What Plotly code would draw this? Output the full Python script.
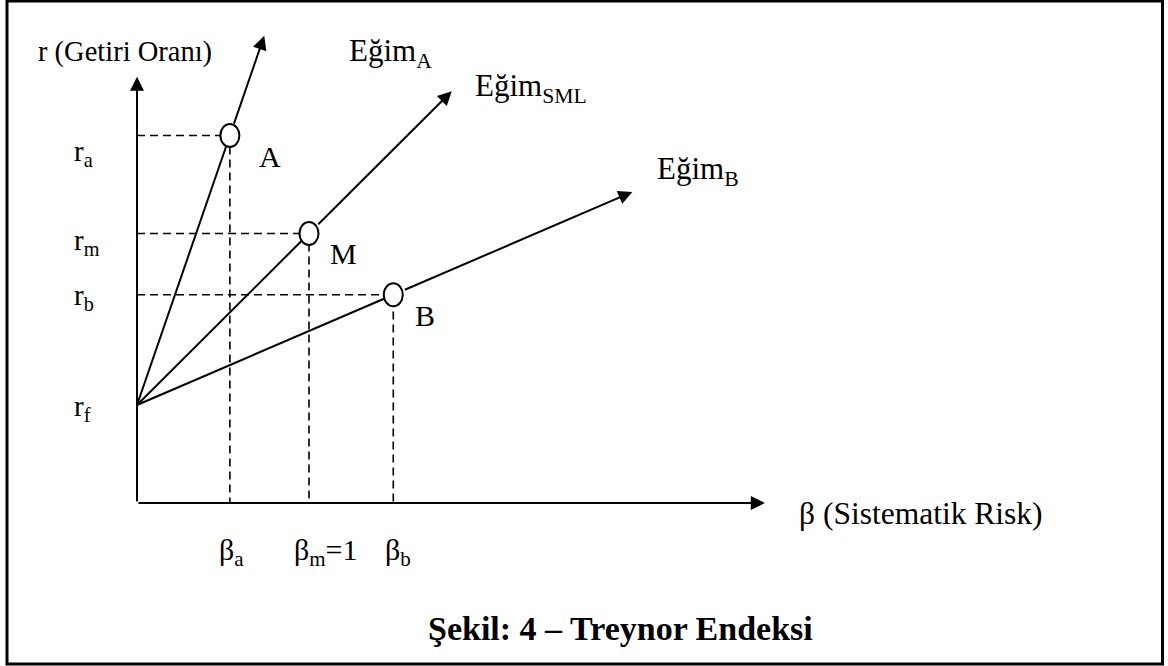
import plotly.graph_objects as go

# ---------------- data ----------------
point_names = ["A", "M", "B"]
betas = [0.54, 1.0, 1.49]          # systematic risk of A, market, B
returns = [15.0, 11.0, 8.5]         # returns r_a, r_m, r_b
rf = 4.0                            # risk free rate
arrow_end_betas = [0.74, 1.83, 2.88]
beta_labels = ["β<sub>a</sub>", "β<sub>m</sub>=1", "β<sub>b</sub>"]
return_labels = ["r<sub>a</sub>", "r<sub>m</sub>", "r<sub>b</sub>"]
rf_label = "r<sub>f</sub>"
slope_labels = ["Eğim<sub>A</sub>", "Eğim<sub>SML</sub>", "Eğim<sub>B</sub>"]
y_title = "r (Getiri Oranı)"
x_title = "β (Sistematik Risk)"
fig_title = "<b>Şekil: 4 – Treynor Endeksi</b>"
axis_max_beta = 3.65
axis_max_r = 17.4

# ---------------- layout helpers ----------------
W, H = 1168, 666
X0PX, Y0PX, SX, SY = 137, 503, 172.0, 24.5
xr = [-X0PX / SX, (W - X0PX) / SX]
yr = [-(H - Y0PX) / SY, Y0PX / SY]
FONT = "Liberation Serif, Times New Roman, serif"


def px(xp):
    return xp / W


def py(yp):
    return 1 - yp / H


fig = go.Figure()

# dashed guide lines
for b, r in zip(betas, returns):
    fig.add_trace(go.Scatter(x=[0, b, b], y=[r, r, 0], mode="lines",
                             line=dict(color="black", width=1.6, dash="8px,5px"),
                             hoverinfo="skip", showlegend=False))

# solid lines from rf to each point
slopes = [(r - rf) / b for b, r in zip(betas, returns)]
for b, r in zip(betas, returns):
    fig.add_trace(go.Scatter(x=[0, b], y=[rf, r], mode="lines",
                             line=dict(color="black", width=2),
                             hoverinfo="skip", showlegend=False))

# invisible point trace (hover / data anchor)
fig.add_trace(go.Scatter(x=betas, y=returns, mode="markers",
                         marker=dict(size=1, color="rgba(0,0,0,0)"),
                         text=point_names, hoverinfo="text", showlegend=False))

# elliptical open circles at the points (anchored at data, sized in pixels)
shapes = []
for b, r in zip(betas, returns):
    shapes.append(dict(type="circle", xref="x", yref="y",
                       xsizemode="pixel", ysizemode="pixel", xanchor=b, yanchor=r,
                       x0=-9.5, x1=9.5, y0=-11.5, y1=11.5,
                       line=dict(color="black", width=2), fillcolor="white",
                       layer="above"))

ann = []
# arrows continuing past each point
for b, r, s, be in zip(betas, returns, slopes, arrow_end_betas):
    ann.append(dict(x=be, y=rf + s * be, ax=b, ay=r, xref="x", yref="y",
                    axref="x", ayref="y", text="", showarrow=True,
                    arrowhead=2, arrowsize=1.4, arrowwidth=2, arrowcolor="black",
                    standoff=0, startstandoff=11))

# axes arrows
ann.append(dict(x=0, y=axis_max_r, ax=0, ay=0, xref="x", yref="y", axref="x", ayref="y",
                text="", showarrow=True, arrowhead=2, arrowsize=1.4, arrowwidth=2,
                arrowcolor="black", standoff=0))
ann.append(dict(x=axis_max_beta, y=0, ax=0, ay=0, xref="x", yref="y", axref="x", ayref="y",
                text="", showarrow=True, arrowhead=2, arrowsize=1.4, arrowwidth=2,
                arrowcolor="black", standoff=0))


def text(t, x, y, size, xanchor="center"):
    ann.append(dict(x=x, y=y, xref="paper", yref="paper", text=t, showarrow=False,
                    xanchor=xanchor, yanchor="middle",
                    font=dict(family=FONT, size=size, color="black")))


# return labels on the y side
for lab, yp in zip(return_labels + [rf_label], [153, 242, 297, 408]):
    text(lab, px(72), py(yp), 29, xanchor="left")
# beta labels
for lab, xp in zip(beta_labels, [217, 292, 383]):
    text(lab, px(xp), py(552), 30, xanchor="left")
# point names
for lab, (xp, yp) in zip(point_names, [(270, 157), (343, 253), (425, 315)]):
    text(lab, px(xp), py(yp), 30)
# slope labels
for lab, (xp, yp) in zip(slope_labels, [(347, 53), (473, 88), (655, 171)]):
    text(lab, px(xp), py(yp), 31, xanchor="left")

text(y_title, px(36), py(52), 28.5, xanchor="left")
text(x_title, px(797), py(513), 31.5, xanchor="left")
text(fig_title, px(815), py(628), 34, xanchor="right")

# outer frame
shapes.append(dict(type="rect", xref="paper", yref="paper",
                   x0=px(7), x1=px(1162.5), y0=py(664), y1=py(1),
                   line=dict(color="black", width=3), fillcolor="rgba(0,0,0,0)"))

fig.update_layout(
    width=W, height=H, margin=dict(l=0, r=0, t=0, b=0),
    paper_bgcolor="white", plot_bgcolor="white",
    xaxis=dict(range=xr, visible=False, fixedrange=True),
    yaxis=dict(range=yr, visible=False, fixedrange=True),
    annotations=ann,
    shapes=shapes,
    showlegend=False,
)

fig.write_html("out.html", config={"displayModeBar": False},
               post_script="document.body.style.margin='0';")
